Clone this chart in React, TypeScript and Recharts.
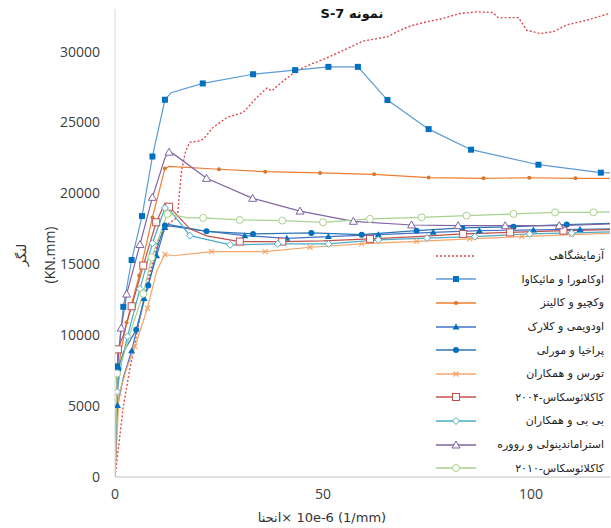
import React from 'react';
import { LineChart, Line, XAxis, YAxis } from 'recharts';

type Pt = [number, number];

// curvature (1e-6 /mm) vs moment (KN.mm)
const experimental: Pt[] = [
  [0, 0], [1, 2500], [2, 5000], [3.5, 7500], [5.5, 10500], [8, 14000], [10.5, 16800],
  [12.5, 17800], [15, 18300], [15.6, 20400], [16, 21600], [17, 23000], [18, 23600],
  [20.4, 23700], [21.2, 23830], [23.6, 24650], [26.9, 25350], [30.8, 25700], [34.1, 26760],
  [36.5, 27420], [37.7, 27230], [40.5, 27940], [43.6, 28640], [47, 29100], [50.2, 29460],
  [55, 30100], [59.8, 30750], [65.4, 31030], [68.5, 31500], [71, 31800], [75, 32100],
  [78.1, 32280], [82.9, 32680], [87, 32800], [90.9, 32750], [92.1, 32390], [97, 32390],
  [99, 31500], [102.2, 31270], [105.4, 31400], [108.6, 31880], [113.4, 32210],
  [117.4, 32560], [119, 32700],
];
const okamura: Pt[] = [
  [0, 0], [0.5, 7800], [2, 12000], [4, 15300], [6.5, 18400], [9, 22600], [12, 26600],
  [13.5, 27100], [21.1, 27750], [33.2, 28400], [43.3, 28690], [51.3, 28920], [58.4, 28920],
  [65.5, 26580], [75.4, 24530], [85.6, 23080], [101.8, 22020], [116.8, 21460], [119, 21450],
];
const vecchio: Pt[] = [
  [0, 0], [0.5, 7000], [1.5, 9000], [2.8, 10890], [5.8, 14200], [9, 18300], [12, 21750],
  [13, 21900], [25, 21700], [36.1, 21530], [49.3, 21440], [62.3, 21340], [75.4, 21110],
  [88.6, 21060], [99.6, 21100], [110.7, 21060], [119, 21060],
];
const odumi: Pt[] = [
  [0, 0], [0.6, 5050], [2, 7000], [4, 8900], [7, 12580], [10, 15600], [12, 17600],
  [13, 17700], [20, 17400], [31.2, 17020], [41.3, 16830], [51.3, 16950], [63.3, 17090],
  [76.5, 17250], [87.6, 17370], [100.6, 17420], [111.8, 17460], [119, 17500],
];
const prakhya: Pt[] = [
  [0, 0], [0.8, 7600], [2, 8800], [5.1, 10380], [8, 13500], [10.5, 16500], [12, 17730],
  [13, 17800], [22, 17320], [33.2, 17140], [47.2, 17210], [59.3, 17090], [72.5, 17370],
  [83.5, 17560], [95.8, 17650], [108.6, 17800], [119, 17890],
];
const torres: Pt[] = [
  [0, 0], [0.5, 3000], [1, 5900], [3, 7800], [4.8, 9200], [7.8, 11900], [10, 14500],
  [12, 15700], [14, 15600], [23.2, 15890], [36.1, 15890], [46.9, 16200], [59.3, 16440],
  [72.5, 16620], [85.3, 16790], [97.8, 16950], [109.8, 17090], [119, 17180],
];
const kaklauskas2004: Pt[] = [
  [0, 0], [0.7, 9000], [2, 10000], [4, 12040], [6.8, 14910], [9.9, 17960], [12, 19300],
  [13, 19060], [18, 17500], [22, 17000], [30, 16600], [40.2, 16600], [50, 16650],
  [61.3, 16790], [72.5, 16950], [83.7, 17140], [95, 17250], [107.8, 17370], [119, 17450],
];
const bibi: Pt[] = [
  [0, 0], [0.5, 6000], [1.5, 8000], [3, 9910], [6, 13270], [9, 16480], [12, 18970],
  [13, 18900], [18, 17020], [27.7, 16370], [39.1, 16440], [51.3, 16440], [63.3, 16720],
  [75, 16850], [86.5, 16950], [99.7, 17140], [109.8, 17210], [119, 17280],
];
const stramandinoli: Pt[] = [
  [0, 0], [0.5, 7500], [1.5, 10500], [2.8, 12900], [6, 16390], [9, 19720], [12, 22500],
  [13, 22900], [14, 22800], [22, 21060], [33.1, 19650], [44.5, 18750], [57.3, 18030],
  [71.3, 17770], [82.5, 17720], [93.8, 17720], [106.8, 17720], [119, 17840],
];
const kaklauskas2010: Pt[] = [
  [0, 0], [0.5, 7300], [2, 8500], [4, 10500], [6.8, 12920], [8.8, 15490], [12.6, 18550],
  [17.6, 18270], [21.2, 18270], [30, 18130], [40.2, 18080], [50, 17960], [61.3, 18200],
  [73.7, 18310], [84.5, 18430], [95.8, 18550], [105.8, 18660], [115, 18660], [119, 18700],
];

const yTicks = [0, 5000, 10000, 15000, 20000, 25000, 30000];
const xTicks = [0, 50, 100];

const title = 'S-7  نمونه';
const yTitle = 'لنگر';
const yUnit = '(KN.mm)';
const xTitle = 'انحنا\u200E× 10e-6 (1/mm)';

type Shape = 'none' | 'square' | 'dot' | 'triangle' | 'circle' | 'cross' | 'osquare' | 'diamond' | 'otriangle' | 'ocircle';

interface Series {
  key: string;
  name: string;
  data: Pt[];
  color: string;
  mark: string;
  shape: Shape;
  dash?: string;
  skip: number[];
}

const series: Series[] = [
  { key: 'exp', name: 'آزمایشگاهی', data: experimental, color: '#DC4B4E', mark: '#DC4B4E', shape: 'none', dash: '2 2', skip: [] },
  { key: 'oka', name: 'اوکامورا و مائیکاوا', data: okamura, color: '#5B9BD5', mark: '#0070C0', shape: 'square', skip: [0, 7, 18] },
  { key: 'vec', name: 'وکچیو و کالینز', data: vecchio, color: '#ED7D31', mark: '#D9772F', shape: 'dot', skip: [0, 1, 2, 7, 16] },
  { key: 'odu', name: 'اودویمی و کلارک', data: odumi, color: '#4472C4', mark: '#0070C0', shape: 'triangle', skip: [0, 2, 7, 8, 17] },
  { key: 'pra', name: 'پراخیا و مورلی', data: prakhya, color: '#2E75B6', mark: '#0070C0', shape: 'circle', skip: [0, 2, 5, 7, 16] },
  { key: 'tor', name: 'تورس و همکاران', data: torres, color: '#F4A66A', mark: '#F4A66A', shape: 'cross', skip: [0, 1, 3, 6, 8, 17] },
  { key: 'k04', name: 'کاکلائوسکاس-۲۰۰۴', data: kaklauskas2004, color: '#C0504D', mark: '#C0504D', shape: 'osquare', skip: [0, 2, 6, 8, 9, 12, 14, 18] },
  { key: 'bib', name: 'بی بی و همکاران', data: bibi, color: '#4BACC6', mark: '#4BACC6', shape: 'diamond', skip: [0, 2, 7, 17] },
  { key: 'str', name: 'استراماندینولی و رووره', data: stramandinoli, color: '#8064A2', mark: '#8064A2', shape: 'otriangle', skip: [0, 1, 6, 8, 17] },
  { key: 'k10', name: 'کاکلائوسکاس-۲۰۱۰', data: kaklauskas2010, color: '#A9D18E', mark: '#A9D18E', shape: 'ocircle', skip: [0, 2, 3, 7, 18] },
];

function Marker({ x, y, shape, color }: { x: number; y: number; shape: Shape; color: string }) {
  switch (shape) {
    case 'square':
      return <rect x={x - 3} y={y - 3} width={6} height={6} fill={color} />;
    case 'dot':
      return <circle cx={x} cy={y} r={2} fill={color} />;
    case 'triangle':
      return <polygon points={`${x},${y - 3.5} ${x + 3.5},${y + 2.5} ${x - 3.5},${y + 2.5}`} fill={color} />;
    case 'circle':
      return <circle cx={x} cy={y} r={3} fill={color} />;
    case 'cross':
      return <path d={`M${x - 2.5},${y - 2.5}L${x + 2.5},${y + 2.5}M${x - 2.5},${y + 2.5}L${x + 2.5},${y - 2.5}`} stroke={color} strokeWidth={1.1} />;
    case 'osquare':
      return <rect x={x - 3.5} y={y - 3.5} width={7} height={7} fill="#fff" stroke={color} strokeWidth={1} />;
    case 'diamond':
      return <polygon points={`${x},${y - 3.5} ${x + 3.5},${y} ${x},${y + 3.5} ${x - 3.5},${y}`} fill="#fff" stroke={color} strokeWidth={1} />;
    case 'otriangle':
      return <polygon points={`${x},${y - 4} ${x + 4},${y + 3} ${x - 4},${y + 3}`} fill="#fff" stroke={color} strokeWidth={1} />;
    case 'ocircle':
      return <circle cx={x} cy={y} r={3.5} fill="#fff" stroke={color} strokeWidth={1} />;
    default:
      return null;
  }
}

const tickFont = { fontFamily: 'Open Sans', fontSize: 14, fill: '#404040' };
const faFont = "'DejaVu Sans', sans-serif";

function LegendBox() {
  return (
    <div style={{ position: 'absolute', left: 432, top: 244, width: 172, zIndex: 2 }}>
      {series.map((s) => (
        <div key={s.key} style={{ height: 23.6, display: 'flex', alignItems: 'center' }}>
          <svg width={48} height={12} style={{ flex: 'none' }}>
            <line x1={4} y1={6} x2={44} y2={6} stroke={s.color} strokeWidth={1.5} strokeDasharray={s.dash} />
            <Marker x={24} y={6} shape={s.shape} color={s.mark} />
          </svg>
          <div style={{ flex: 1, textAlign: 'right', direction: 'rtl', fontFamily: faFont, fontSize: 11, color: '#222' }}>
            {s.name}
          </div>
        </div>
      ))}
    </div>
  );
}

export default function App() {
  return (
    <div style={{ position: 'absolute', left: 0, top: 0, width: 611, height: 528, background: '#fff' }}>
      <div
        style={{
          position: 'absolute', left: 290, top: 6, width: 124, textAlign: 'center',
          fontFamily: faFont, fontWeight: 'bold', fontSize: 13, color: '#111', zIndex: 2,
        }}
      >
        {title}
      </div>
      <LineChart width={611} height={528} margin={{ top: 9, right: 1, bottom: 0, left: 0 }}>
        <XAxis
          type="number"
          dataKey="x"
          domain={[0, 119]}
          ticks={xTicks}
          allowDataOverflow
          height={51}
          tickLine={false}
          tickSize={0}
          tickMargin={12}
          tick={tickFont}
          axisLine={{ stroke: '#BFBFBF' }}
          label={{
            content: () => (
              <text x={322} y={522} textAnchor="middle" fontFamily={faFont} fontSize={13} fill="#333">
                {xTitle}
              </text>
            ),
          }}
        />
        <YAxis
          type="number"
          domain={[0, 33000]}
          ticks={yTicks}
          allowDataOverflow
          width={115}
          tickLine={false}
          tickSize={0}
          tickMargin={15}
          tick={tickFont}
          axisLine={{ stroke: '#D9D9D9' }}
          label={{
            content: () => (
              <g>
                <text transform="translate(26,255) rotate(-90)" textAnchor="middle" fontFamily={faFont} fontSize={13} fill="#333">
                  {yTitle}
                </text>
                <text transform="translate(55,255) rotate(-90)" textAnchor="middle" fontFamily="Open Sans" fontSize={14} fill="#333">
                  {yUnit}
                </text>
              </g>
            ),
          }}
        />
        {series.map((s) => (
          <Line
            key={s.key}
            name={s.name}
            data={s.data.map(([x, y]) => ({ x, y }))}
            dataKey="y"
            type="linear"
            stroke={s.color}
            strokeWidth={s.dash ? 1.4 : 1.2}
            strokeDasharray={s.dash}
            isAnimationActive={false}
            activeDot={false}
            dot={(p: any) =>
              s.shape === 'none' || s.skip.includes(p.index) ? (
                <g key={`${s.key}-${p.index}`} />
              ) : (
                <g key={`${s.key}-${p.index}`}>
                  <Marker x={p.cx} y={p.cy} shape={s.shape} color={s.mark} />
                </g>
              )
            }
          />
        ))}
      </LineChart>
      <LegendBox />
    </div>
  );
}
